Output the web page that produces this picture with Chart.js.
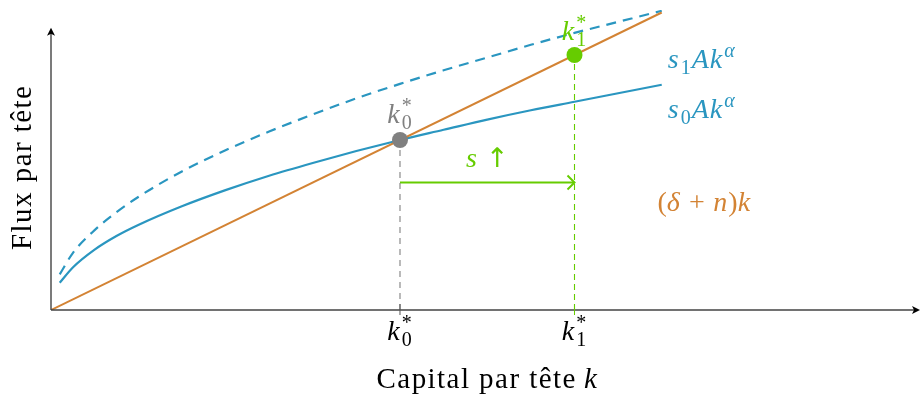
<!DOCTYPE html>
<html>
<head>
<meta charset="utf-8">
<script src="https://cdn.jsdelivr.net/npm/chart.js@4.4.1/dist/chart.umd.min.js"></script>
<style>
  html, body { margin: 0; padding: 0; background: #fff; }
  #wrap { width: 921px; height: 399px; }
</style>
</head>
<body>
<div id="wrap"><canvas id="solow" width="921" height="399"></canvas></div>
<script>
// Capital par tête (k)
var kValues = [0.1, 0.25, 0.5, 0.75, 1, 1.5, 2, 2.5, 3, 3.5, 4, 4.5, 5, 5.5, 6, 6.5, 7];
// s0 A k^alpha (courbe pleine)
var s0Values = [0.32, 0.5, 0.71, 0.87, 1.0, 1.22, 1.41, 1.58, 1.73, 1.87, 2.0, 2.12, 2.24, 2.35, 2.45, 2.55, 2.65];
// s1 A k^alpha (courbe pointillée)
var s1Values = [0.42, 0.67, 0.94, 1.15, 1.33, 1.63, 1.88, 2.10, 2.30, 2.49, 2.66, 2.82, 2.97, 3.12, 3.26, 3.39, 3.52];
// (delta + n) k
var depK = [0, 7];
var depValues = [0, 3.5];
// états stationnaires
var kStar = [4, 6];
var yStar = [2, 3];
var arrowY = 1.5;
var xMax = 9.96, yMax = 3.6, yAxisTop = 3.32;

var BLUE = '#2a96c0', ORANGE = '#d38334', GREEN = '#66cc00', GRAY = '#808080';
var SERIF = "'Liberation Serif', 'DejaVu Serif', serif";
var MATH = 28, TEXT = 29;

function pts(xs, ys) {
    return xs.map(function(x, i) { return {x: x, y: ys[i]}; });
}

function setFont(ctx, italic, size, family) {
    ctx.font = (italic ? 'italic ' : '') + size + 'px ' + (family || SERIF);
}

// texte lettre par lettre avec un léger espacement (plus proche de Computer Modern)
function spaced(ctx, str, size, draw, x, y) {
    var gap = size * 0.05, cx = x;
    for (var i = 0; i < str.length; i++) {
        if (draw) ctx.fillText(str[i], cx, y);
        cx += ctx.measureText(str[i]).width + (i < str.length - 1 ? gap : 0);
    }
    return cx - x;
}

// petit moteur pour écrire k_0^*, s_1 A k^alpha ...
function layoutMath(ctx, tokens, size, draw, x, y) {
    var cx = x;
    tokens.forEach(function(tk) {
        if (tk.t !== undefined) {
            setFont(ctx, tk.i, Math.round(size * (tk.s || 1)), tk.f);
            cx += spaced(ctx, tk.t, size, draw, cx, y) + (tk.i ? 1 : 0) + (tk.g || 0);
        } else {
            var s = Math.round(size * 0.7), a = 0, b = 0;
            setFont(ctx, tk.i, s);
            if (tk.sub) { if (draw) ctx.fillText(tk.sub, cx + 1, y + size * 0.2); a = ctx.measureText(tk.sub).width; }
            if (tk.sup) { if (draw) ctx.fillText(tk.sup, cx + 1, y - size * 0.38); b = ctx.measureText(tk.sup).width; }
            cx += Math.max(a, b) + 2;
        }
    });
    return cx - x;
}

function drawMath(ctx, tokens, x, y, size, color, align) {
    ctx.save();
    ctx.fillStyle = color;
    ctx.textBaseline = 'alphabetic';
    ctx.textAlign = 'left';
    var w = layoutMath(ctx, tokens, size, false, 0, 0);
    var sx = align === 'center' ? x - w / 2 : x;
    layoutMath(ctx, tokens, size, true, sx, y);
    ctx.restore();
}

var K0 = [{t: 'k', i: true}, {sub: '0', sup: '*'}];
var K1 = [{t: 'k', i: true}, {sub: '1', sup: '*'}];

var decor = {
    id: 'decor',
    afterDatasetsDraw: function(chart) {
        var ctx = chart.ctx, xs = chart.scales.x, ys = chart.scales.y;
        var x0 = xs.getPixelForValue(0), y0 = ys.getPixelForValue(0);
        var xEnd = xs.getPixelForValue(xMax), yTop = ys.getPixelForValue(yAxisTop);
        ctx.save();
        // axes
        ctx.strokeStyle = '#444';
        ctx.lineWidth = 1.4;
        ctx.beginPath();
        ctx.moveTo(x0, y0); ctx.lineTo(xEnd - 2, y0);
        ctx.moveTo(x0, y0); ctx.lineTo(x0, yTop + 2);
        ctx.stroke();
        ctx.fillStyle = '#000';
        ctx.beginPath();
        ctx.moveTo(xEnd, y0); ctx.lineTo(xEnd - 8, y0 - 4); ctx.lineTo(xEnd - 6, y0); ctx.lineTo(xEnd - 8, y0 + 4);
        ctx.closePath(); ctx.fill();
        ctx.beginPath();
        ctx.moveTo(x0, yTop); ctx.lineTo(x0 - 4, yTop + 8); ctx.lineTo(x0, yTop + 6); ctx.lineTo(x0 + 4, yTop + 8);
        ctx.closePath(); ctx.fill();
        // ticks
        var tx0 = xs.getPixelForValue(kStar[0]), tx1 = xs.getPixelForValue(kStar[1]);
        ctx.lineWidth = 1;
        ctx.strokeStyle = '#555';
        ctx.beginPath(); ctx.moveTo(tx0, y0 - 6); ctx.lineTo(tx0, y0 + 5); ctx.stroke();
        ctx.strokeStyle = GREEN;
        ctx.beginPath(); ctx.moveTo(tx1, y0 - 6); ctx.lineTo(tx1, y0 + 5); ctx.stroke();
        // green arrow head
        var ay = ys.getPixelForValue(arrowY);
        ctx.strokeStyle = GREEN;
        ctx.lineWidth = 2;
        ctx.beginPath();
        ctx.moveTo(tx1 - 7, ay - 7); ctx.quadraticCurveTo(tx1 - 2, ay - 2, tx1, ay);
        ctx.quadraticCurveTo(tx1 - 2, ay + 2, tx1 - 7, ay + 7);
        ctx.stroke();
        // tick labels
        drawMath(ctx, K0, tx0, 340, MATH, '#000', 'center');
        drawMath(ctx, K1, tx1, 340, MATH, '#000', 'center');
        // axis titles
        drawMath(ctx, [{t: 'Capital par tête '}, {t: 'k', i: true}], xs.getPixelForValue(5), 388, TEXT, '#000', 'center');
        ctx.save();
        ctx.translate(31, 168);
        ctx.rotate(-Math.PI / 2);
        drawMath(ctx, [{t: 'Flux par tête'}], 0, 0, TEXT, '#000', 'center');
        ctx.restore();
        // curve labels
        var lx = xs.getPixelForValue(7.07);
        drawMath(ctx, [{t: 's', i: true}, {sub: '1'}, {t: 'A', i: true}, {t: 'k', i: true}, {sup: 'α', i: true}],
            lx, 68, MATH, BLUE, 'left');
        drawMath(ctx, [{t: 's', i: true}, {sub: '0'}, {t: 'A', i: true}, {t: 'k', i: true}, {sup: 'α', i: true}],
            lx, 118, MATH, BLUE, 'left');
        drawMath(ctx, [{t: '('}, {t: 'δ', i: true}, {t: ' + '}, {t: 'n', i: true}, {t: ')'}, {t: 'k', i: true}],
            xs.getPixelForValue(6.95), 211, MATH, ORANGE, 'left');
        drawMath(ctx, [{t: 's', i: true, g: 8}, {t: '↑', f: "'DejaVu Sans'", s: 0.95}], xs.getPixelForValue(5), 167, MATH, GREEN, 'center');
        drawMath(ctx, K0, tx0, ys.getPixelForValue(yStar[0]) - 17, MATH, GRAY, 'center');
        drawMath(ctx, K1, tx1, ys.getPixelForValue(yStar[1]) - 15, MATH, GREEN, 'center');
        ctx.restore();
    }
};

var chart = new Chart(document.getElementById('solow'), {
    type: 'scatter',
    data: {
        datasets: [
            { data: [{x: kStar[0], y: yStar[0]}], pointRadius: 8, pointBackgroundColor: GRAY, pointBorderWidth: 0, order: 0 },
            { data: [{x: kStar[1], y: yStar[1]}], pointRadius: 8, pointBackgroundColor: GREEN, pointBorderWidth: 0, order: 0 },
            { data: pts(depK, depValues), showLine: true, borderColor: ORANGE, borderWidth: 2, pointRadius: 0, order: 1 },
            { data: pts(kValues, s0Values), showLine: true, borderColor: BLUE, borderWidth: 2.2, pointRadius: 0, cubicInterpolationMode: 'monotone', order: 2 },
            { data: pts(kValues, s1Values), showLine: true, borderColor: BLUE, borderWidth: 2.2, borderDash: [10, 7], pointRadius: 0, cubicInterpolationMode: 'monotone', order: 2 },
            { data: [{x: kStar[0], y: 0}, {x: kStar[0], y: yStar[0]}], showLine: true, borderColor: GRAY, borderWidth: 1.1, borderDash: [6, 5], pointRadius: 0, order: 3 },
            { data: [{x: kStar[1], y: 0}, {x: kStar[1], y: yStar[1]}], showLine: true, borderColor: GREEN, borderWidth: 1.1, borderDash: [6, 4], pointRadius: 0, order: 3 },
            { data: [{x: kStar[0], y: arrowY}, {x: kStar[1], y: arrowY}], showLine: true, borderColor: GREEN, borderWidth: 2, pointRadius: 0, order: 3 }
        ]
    },
    options: {
        responsive: false,
        animation: false,
        layout: { autoPadding: false, padding: { left: 51, right: 1, top: 4, bottom: 89 } },
        plugins: { legend: { display: false }, tooltip: { enabled: false } },
        scales: {
            x: { type: 'linear', min: 0, max: xMax, display: false },
            y: { type: 'linear', min: 0, max: yMax, display: false }
        }
    },
    plugins: [decor]
});
</script>
</body>
</html>
